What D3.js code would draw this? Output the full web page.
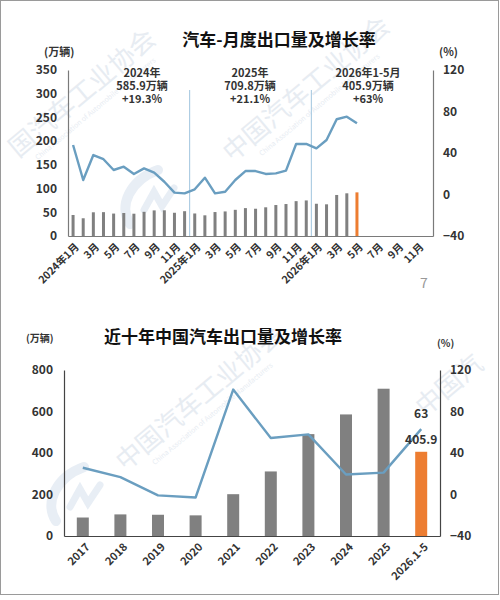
<!DOCTYPE html>
<html>
<head>
<meta charset="utf-8">
<script src="https://cdn.jsdelivr.net/npm/d3@7"></script>
<style>
  body { margin: 0; background: #fff; }
  svg { font-family: "Noto Sans CJK SC", "Noto Sans", sans-serif; }
</style>
</head>
<body>
<div id="svg-container"></div>
<script>
// data: monthly exports (万辆) and growth (%)
const months = [
    '2024-01','2024-02','2024-03','2024-04','2024-05','2024-06','2024-07','2024-08','2024-09','2024-10','2024-11','2024-12',
    '2025-01','2025-02','2025-03','2025-04','2025-05','2025-06','2025-07','2025-08','2025-09','2025-10','2025-11','2025-12',
    '2026-01','2026-02','2026-03','2026-04','2026-05','2026-06','2026-07','2026-08','2026-09','2026-10','2026-11','2026-12'
]
const monthTickLabels = [
    '2024年1月','3月','5月','7月','9月','11月',
    '2025年1月','3月','5月','7月','9月','11月',
    '2026年1月','3月','5月','7月','9月','11月'
]
const monthlyVolume = [
    44.3, 37.4, 50.0, 50.3, 47.3, 48.5, 47.0, 51.0, 54.0, 54.2, 49.0, 52.3,
    47.5, 43.6, 50.5, 51.8, 55.2, 58.8, 57.5, 60.5, 65.3, 67.4, 73.5, 75.0,
    68.0, 66.8, 86.5, 90.0, 92.0, null, null, null, null, null, null, null
]
const monthlyGrowth = [
    47.7, 14.0, 38.0, 34.0, 23.6, 26.8, 19.8, 25.2, 21.0, 12.3, 1.8, 1.1,
    5.0, 16.2, 1.1, 2.7, 14.0, 22.6, 22.6, 19.8, 20.4, 23.0, 48.7, 48.7,
    44.5, 52.5, 72.5, 75.0, 68.6, null, null, null, null, null, null, null
]
const monthLeftTicks = [0, 50, 100, 150, 200, 250, 300, 350]
const monthRightTicks = [-40, 0, 40, 80, 120]
const yearNotes = [
    {x: 142, lines: ['2024年', '585.9万辆', '+19.3%']},
    {x: 250, lines: ['2025年', '709.8万辆', '+21.1%']},
    {x: 368, lines: ['2026年1-5月', '405.9万辆', '+63%']}
]
const separators = ['2025-01', '2026-01']

// data: yearly exports (万辆) and growth (%)
const years = ['2017','2018','2019','2020','2021','2022','2023','2024','2025','2026.1-5']
const yearVolume = [89.1, 104.1, 102.4, 99.5, 201.5, 311.1, 491.0, 585.9, 709.8, 405.9]
const yearGrowth = [25.8, 16.8, -0.8, -2.9, 101.1, 54.4, 57.9, 19.3, 21.1, 63.0]
const yearLeftTicks = [0, 200, 400, 600, 800]
const yearRightTicks = [-40, 0, 40, 80, 120]

const colors = {bar: '#808080', last: '#ed7d31', line: '#6a9ec0', sep: '#9fc4de', text: '#333'}

// canvas
const svg = d3.select('#svg-container')
    .append('svg')
        .attr('width', 500)
        .attr('height', 600)

svg.append('rect')
    .attr('x', 0.5).attr('y', 0.5)
    .attr('width', 498).attr('height', 594)
    .attr('fill', '#fff')
    .attr('stroke', '#9a9a9a')

// watermarks (faint association name + logo swoosh)
const marks = [
    {x: 88, y: 100, t: '国汽车工业协会'},
    {x: 312, y: 96, t: '中国汽车工业协会'},
    {x: 205, y: 405, t: '中国汽车工业协会'},
    {x: 455, y: 392, t: '中国汽'}
]
marks.forEach(m => {
    const g = svg.append('g')
        .attr('transform', `translate(${m.x}, ${m.y}) rotate(-40)`)
        .attr('fill', '#e7ecf2')
    g.append('text')
        .attr('text-anchor', 'middle')
        .attr('font-size', 26)
        .text(m.t)
    if (m.t.length > 4) {
        g.append('text')
            .attr('text-anchor', 'middle')
            .attr('y', 14)
            .attr('font-size', 7)
            .text('China Association of Automobile Manufacturers')
    }
})
const logos = [{x: 122, y: 228}, {x: 48, y: 525}]
logos.forEach(l => {
    const g = svg.append('g')
        .attr('transform', `translate(${l.x}, ${l.y})`)
        .attr('fill', 'none')
        .attr('stroke', '#e8eef5')
        .attr('stroke-linecap', 'round')
    g.append('path')
        .attr('stroke-width', 10)
        .attr('d', 'M8,-4 C-4,-22 8,-48 36,-58')
    g.append('path')
        .attr('stroke-width', 7)
        .attr('d', 'M22,-18 L32,-36 L40,-22 L52,-40')
})

function drawChart(cfg) {
    const g = svg.append('g')

    const xScale = d3.scaleBand()
        .domain(cfg.cats)
        .range([cfg.x0, cfg.x1])
        .padding(0)

    const yLeft = d3.scaleLinear()
        .domain(cfg.leftDomain)
        .range([cfg.y1, cfg.y0])

    const yRight = d3.scaleLinear()
        .domain(cfg.rightDomain)
        .range([cfg.y1, cfg.y0])

    const cx = d => xScale(d) + xScale.bandwidth() / 2

    // title
    g.append('text')
        .attr('x', cfg.titleX).attr('y', cfg.titleY)
        .attr('text-anchor', 'middle')
        .attr('font-size', cfg.titleSize)
        .attr('font-weight', 'bold')
        .attr('fill', '#111')
        .text(cfg.title)

    // units
    g.append('text')
        .attr('x', cfg.unitL[0]).attr('y', cfg.unitL[1])
        .attr('font-size', cfg.unitSize).attr('font-weight', 'bold')
        .attr('fill', colors.text)
        .text('(万辆)')
    g.append('text')
        .attr('x', cfg.unitR[0]).attr('y', cfg.unitR[1])
        .attr('font-size', cfg.unitSize).attr('font-weight', 'bold')
        .attr('fill', colors.text)
        .text('(%)')

    // axes
    const leftAxis = g.append('g')
        .attr('transform', `translate(${cfg.x0}, 0)`)
        .call(d3.axisLeft(yLeft).tickValues(cfg.leftTicks).tickSize(0).tickPadding(cfg.padL))
    const rightAxis = g.append('g')
        .attr('transform', `translate(${cfg.x1}, 0)`)
        .call(d3.axisRight(yRight).tickValues(cfg.rightTicks).tickSize(0).tickPadding(cfg.padR))
    const bottomAxis = g.append('g')
        .attr('transform', `translate(0, ${cfg.y1})`)
        .call(d3.axisBottom(xScale)
            .tickValues(cfg.xTicks)
            .tickFormat((d, i) => cfg.xLabels[i])
            .tickSize(0))

    ;[leftAxis, rightAxis, bottomAxis].forEach(a => {
        a.select('.domain').attr('stroke', cfg.axisColor).attr('stroke-width', 1.2)
        a.selectAll('text')
            .attr('font-family', '"Noto Sans CJK SC", sans-serif')
            .attr('font-weight', 'bold')
            .attr('fill', colors.text)
    })
    leftAxis.selectAll('text').attr('font-size', 12)
    rightAxis.selectAll('text').attr('font-size', 12)
    bottomAxis.selectAll('text')
        .attr('font-size', cfg.xFont)
        .attr('text-anchor', 'end')
        .attr('dy', '0.35em')
        .attr('y', 0)
        .attr('transform', `translate(${cfg.xShift}, ${cfg.xDrop}) rotate(-45)`)

    // separators
    if (cfg.seps) {
        g.selectAll('.sep')
            .data(cfg.seps)
            .join('line')
                .attr('x1', d => xScale(d)).attr('x2', d => xScale(d))
                .attr('y1', cfg.sepTop).attr('y2', cfg.y1)
                .attr('stroke', colors.sep)
                .attr('stroke-width', 1)
    }

    // bars
    const barData = cfg.cats.map((c, i) => ({cat: c, v: cfg.volume[i]})).filter(d => d.v != null)
    const lastCat = barData[barData.length - 1].cat
    g.append('g')
        .selectAll('rect')
        .data(barData)
        .join('rect')
            .attr('x', d => cx(d.cat) - cfg.barW / 2)
            .attr('y', d => yLeft(d.v))
            .attr('width', cfg.barW)
            .attr('height', d => yLeft(0) - yLeft(d.v))
            .attr('fill', d => d.cat === lastCat ? colors.last : colors.bar)

    // growth line
    const lineData = cfg.cats.map((c, i) => ({cat: c, v: cfg.growth[i]})).filter(d => d.v != null)
    g.append('path')
        .datum(lineData)
        .attr('fill', 'none')
        .attr('stroke', colors.line)
        .attr('stroke-width', 2.4)
        .attr('stroke-linejoin', 'round')
        .attr('d', d3.line().x(d => cx(d.cat)).y(d => yRight(d.v)))

    return {xScale, yLeft, yRight, cx, g}
}

// top chart: monthly
const monthChart = drawChart({
    cats: months, volume: monthlyVolume, growth: monthlyGrowth,
    x0: 68, x1: 433, y0: 70, y1: 236,
    leftDomain: [0, 350], rightDomain: [-40, 120],
    leftTicks: monthLeftTicks, rightTicks: monthRightTicks,
    xTicks: months.filter((d, i) => i % 2 === 0), xLabels: monthTickLabels,
    xFont: 10.5, xShift: 4, xDrop: 9,
    padL: 11, padR: 10, barW: 3, axisColor: '#7a7a7a',
    title: '汽车-月度出口量及增长率', titleX: 279, titleY: 46, titleSize: 17,
    unitL: [44, 56], unitR: [439, 56], unitSize: 11,
    seps: separators, sepTop: 90
})

yearNotes.forEach(d => {
    d.lines.forEach((l, i) => {
        monthChart.g.append('text')
            .attr('x', d.x)
            .attr('y', 77 + i * 13)
            .attr('text-anchor', 'middle')
            .attr('font-size', 11)
            .attr('font-weight', 'bold')
            .attr('fill', colors.text)
            .text(l)
    })
})

svg.append('text')
    .attr('x', 424).attr('y', 288)
    .attr('text-anchor', 'middle')
    .attr('font-size', 14)
    .attr('fill', '#999')
    .text('7')

// bottom chart: yearly
const yearChart = drawChart({
    cats: years, volume: yearVolume, growth: yearGrowth,
    x0: 64, x1: 440, y0: 370, y1: 536,
    leftDomain: [0, 800], rightDomain: [-40, 120],
    leftTicks: yearLeftTicks, rightTicks: yearRightTicks,
    xTicks: years, xLabels: years,
    xFont: 11, xShift: 5, xDrop: 9,
    padL: 11, padR: 10, barW: 12, axisColor: '#444',
    title: '近十年中国汽车出口量及增长率', titleX: 223, titleY: 343, titleSize: 17,
    unitL: [26, 342], unitR: [437, 347], unitSize: 10
})

const lastYear = years[years.length - 1]
yearChart.g.append('text')
    .attr('x', yearChart.cx(lastYear)).attr('y', yearChart.yRight(yearGrowth[yearGrowth.length - 1]) - 11)
    .attr('text-anchor', 'middle')
    .attr('font-size', 12).attr('font-weight', 'bold').attr('fill', colors.text)
    .text(yearGrowth[yearGrowth.length - 1])
yearChart.g.append('text')
    .attr('x', yearChart.cx(lastYear)).attr('y', yearChart.yLeft(yearVolume[yearVolume.length - 1]) - 8)
    .attr('text-anchor', 'middle')
    .attr('font-size', 12).attr('font-weight', 'bold').attr('fill', colors.text)
    .text(yearVolume[yearVolume.length - 1])
</script>
</body>
</html>
